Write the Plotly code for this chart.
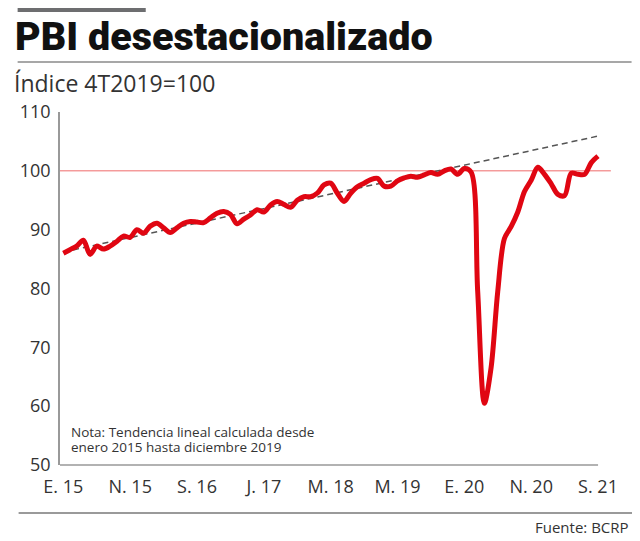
import plotly.graph_objects as go

# ---- data ----
tick_labels = ["E. 15", "N. 15", "S. 16", "J. 17", "M. 18", "M. 19", "E. 20", "N. 20", "S. 21"]
tick_positions = [0, 10, 20, 30, 40, 50, 60, 70, 80]  # month index from Jan 2015

pbi = [
    86.0, 86.6, 87.2, 88.2, 85.8, 87.2, 86.7, 87.2, 88.0, 88.9,   # 2015-01 .. 2015-10
    88.7, 90.0, 89.4, 90.6, 91.1, 90.3, 89.5, 90.3, 91.1, 91.4,   # 2015-11 .. 2016-08
    91.3, 91.2, 92.0, 92.8, 93.1, 92.6, 91.0, 91.8, 92.5, 93.4,   # 2016-09 .. 2017-06
    93.0, 94.2, 94.8, 94.3, 93.8, 95.0, 95.6, 95.6, 96.2, 97.6,   # 2017-07 .. 2018-04
    97.9, 96.2, 94.8, 96.2, 97.3, 97.9, 98.5, 98.7, 97.4, 97.4,   # 2018-05 .. 2019-02
    98.3, 98.8, 99.1, 98.9, 99.3, 99.7, 99.4, 100.0, 100.3, 99.4, # 2019-03 .. 2019-12
    100.4, 99.8, 79.5, 60.5, 66.5, 79.5, 88.5, 90.5, 93.0, 96.5,  # 2020-01 .. 2020-10
    98.4, 100.6, 99.4, 97.8, 96.0, 95.8, 99.6, 99.4, 99.4, 101.4, # 2020-11 .. 2021-08
    102.5,                                                         # 2021-09
]
months = list(range(len(pbi)))

trend_months = [0, 80]          # enero 2015 .. septiembre 2021
trend_values = [86.2, 105.9]    # linear trend endpoints

y_ticks = [50, 60, 70, 80, 90, 100, 110]

# ---- layout geometry ----
# page has an 8px body margin; figure is sized to fit the 640x541 window
OFF = 8
W, H = 640 - 2 * OFF, 541 - 2 * OFF
# plot area in page pixels
PL, PR, PT, PB = 52, 602, 112, 465
L, T = PL - OFF, PT - OFF
R, B = W - (PR - OFF), H - (PB - OFF)
PW, PH = PR - PL, PB - PT


def px(xp):
    return (xp - PL) / PW


def py(yp):
    return (PB - yp) / PH


TXT = "#333333"
FONT = "Open Sans, Lato, sans-serif"

fig = go.Figure()

fig.add_trace(go.Scatter(
    x=trend_months, y=trend_values, mode="lines",
    line=dict(color="#555555", width=1.5, dash="6px,4px"),
    hoverinfo="skip", showlegend=False,
))
fig.add_trace(go.Scatter(
    x=months, y=pbi, mode="lines",
    line=dict(color="#e00612", width=5, shape="spline", smoothing=0.9),
    showlegend=False,
))

shapes = [
    dict(type="line", xref="paper", yref="y", x0=0, x1=px(611), y0=100, y1=100,
         line=dict(color="#ef6b6b", width=1), layer="below"),
    dict(type="line", xref="paper", yref="paper", x0=0, x1=px(598), y0=0, y1=0,
         line=dict(color="#999999", width=1.5)),
    dict(type="rect", xref="paper", yref="paper", x0=px(9), x1=px(139), y0=py(12), y1=py(4),
         line=dict(width=0), fillcolor="#6d6e70"),
    dict(type="line", xref="paper", yref="paper", x0=px(9), x1=px(632), y0=py(62), y1=py(62),
         line=dict(color="#8a8a8a", width=1.5)),
    dict(type="line", xref="paper", yref="paper", x0=px(10), x1=px(633), y0=py(513), y1=py(513),
         line=dict(color="#9a9a9a", width=2)),
]

annotations = [
    dict(text="PBI desestacionalizado", xref="paper", yref="paper",
         x=px(4), y=py(37), xanchor="left", yanchor="middle", showarrow=False,
         font=dict(family="Roboto, sans-serif", size=39.5, weight=900, color="#111111")),
    dict(text="Índice 4T2019=100", xref="paper", yref="paper",
         x=px(3), y=py(83), xanchor="left", yanchor="middle", showarrow=False,
         font=dict(family=FONT, size=23, color=TXT)),
    dict(text="Nota: Tendencia lineal calculada desde", xref="paper", yref="paper",
         x=px(61), y=py(432), xanchor="left", yanchor="middle", showarrow=False,
         font=dict(family=FONT, size=13.5, color=TXT)),
    dict(text="enero 2015 hasta diciembre 2019", xref="paper", yref="paper",
         x=px(61), y=py(447), xanchor="left", yanchor="middle", showarrow=False,
         font=dict(family=FONT, size=13.5, color=TXT)),
    dict(text="Fuente: BCRP", xref="paper", yref="paper",
         x=px(631), y=py(527), xanchor="right", yanchor="middle", showarrow=False,
         font=dict(family=FONT, size=15, color=TXT)),
]

fig.update_layout(
    width=W, height=H,
    margin=dict(l=L, r=R, t=T, b=B, pad=0),
    paper_bgcolor="white", plot_bgcolor="white",
    shapes=shapes, annotations=annotations,
    xaxis=dict(range=[-0.5, 80.6], tickvals=tick_positions, ticktext=tick_labels,
               showgrid=False, zeroline=False, showline=False, ticks="",
               ticklabelstandoff=9,
               tickfont=dict(family=FONT, size=18, color=TXT), fixedrange=True),
    yaxis=dict(range=[50, 110], tickvals=y_ticks, showgrid=False, zeroline=False,
               showline=True, linecolor="#999999", linewidth=1.5, ticks="",
               ticklabelstandoff=4,
               tickfont=dict(family=FONT, size=18, color=TXT), fixedrange=True),
)

fig.write_html("out.html")
